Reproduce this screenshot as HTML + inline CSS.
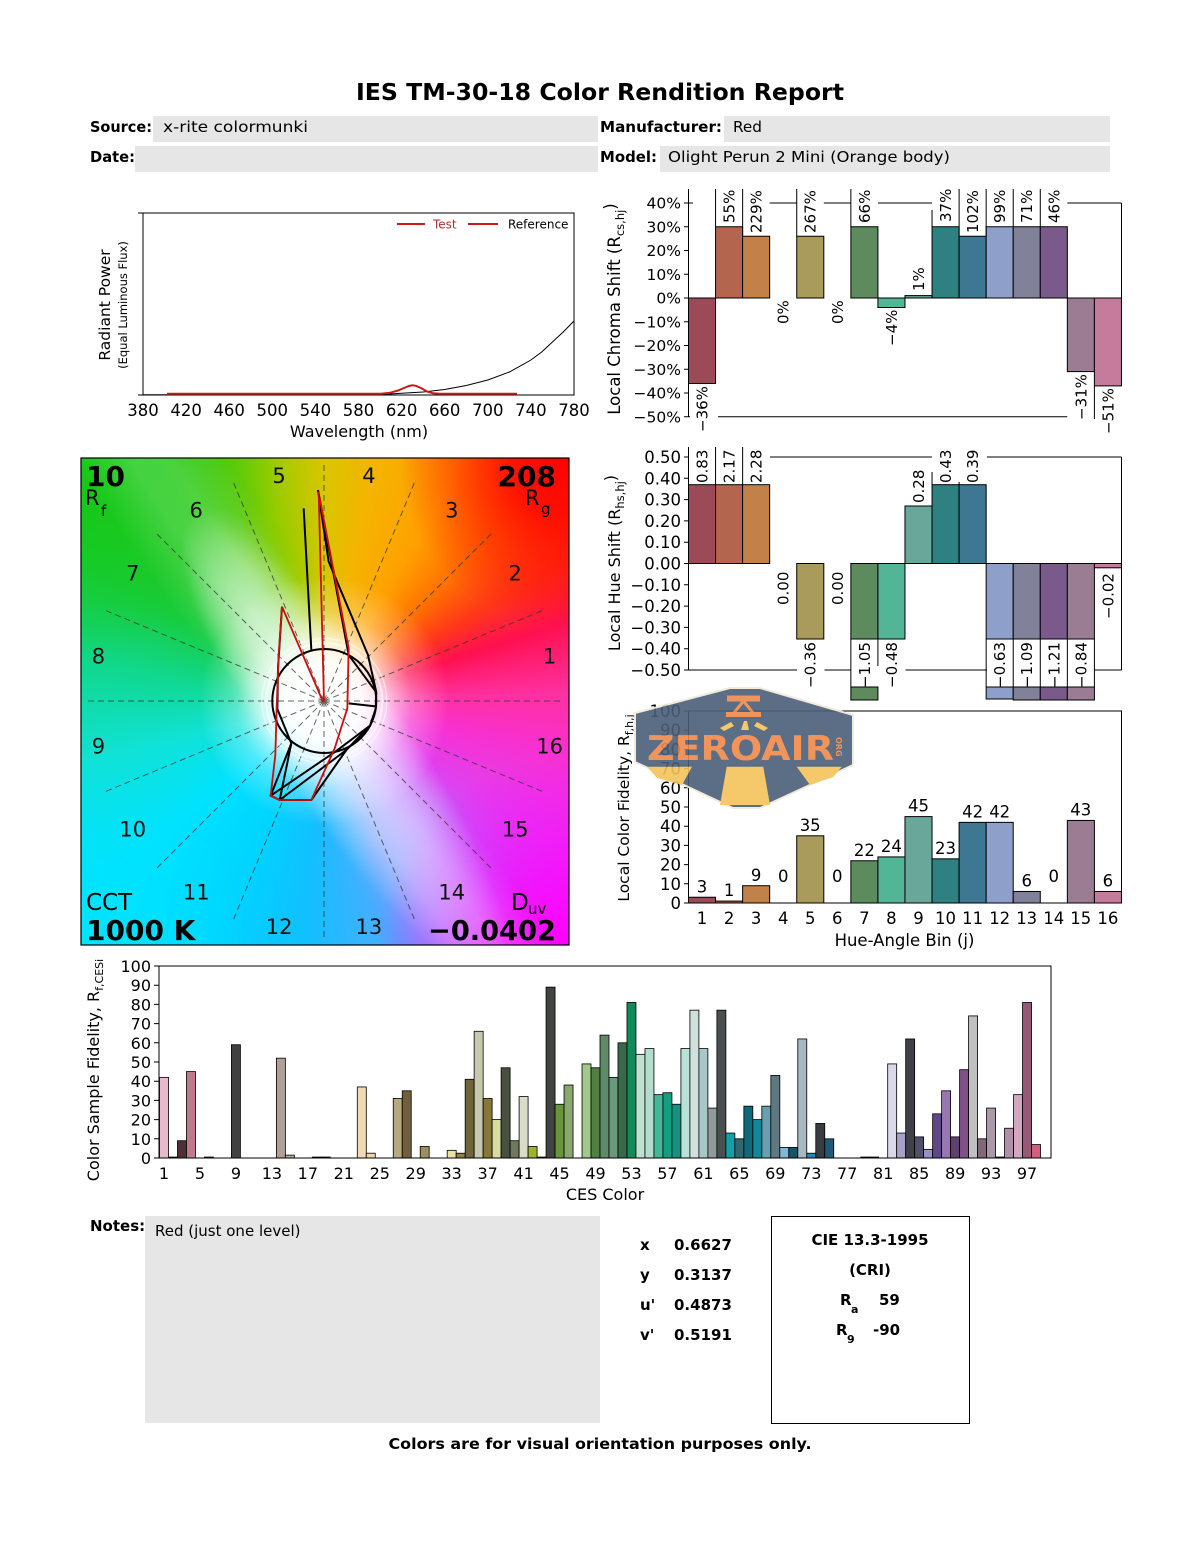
<!DOCTYPE html>
<html><head><meta charset="utf-8">
<style>
html,body{margin:0;padding:0;background:#fff;}
body{width:1200px;height:1550px;position:relative;overflow:hidden;}
#cvg{position:absolute;left:81px;top:458px;width:488px;height:487px;overflow:hidden;
background:
radial-gradient(circle at 243px 243px, #fff 0px, rgba(255,255,255,.97) 38px, rgba(255,255,255,.75) 60px, rgba(255,255,255,.3) 88px, rgba(255,255,255,0) 125px),
linear-gradient(56deg, rgba(255,255,255,0) 39%, rgba(255,255,255,.18) 46%, rgba(255,255,255,.18) 51%, rgba(255,255,255,0) 58%),
radial-gradient(circle at 100% 0%, rgba(255,0,0,1) 0px, rgba(255,0,0,.85) 60px, rgba(255,0,0,0) 170px),
radial-gradient(circle at 100% 100%, rgba(255,0,255,1) 0px, rgba(255,0,255,.75) 70px, rgba(255,0,255,0) 190px),
radial-gradient(circle at 0% 100%, rgba(0,228,255,1) 0px, rgba(0,228,255,0) 170px),
radial-gradient(circle at 0% 0%, rgba(20,200,20,1) 0px, rgba(20,200,20,.6) 90px, rgba(20,200,20,0) 200px),
conic-gradient(from 0deg at 243px 243px, #d8c600 0deg, #f4b400 12deg, #ffa000 30deg, #ff7400 45deg, #ff3818 60deg, #ff1050 72deg, #ff30a0 88deg, #f830d0 102deg, #e040f0 122deg, #a070ff 145deg, #40b0ff 168deg, #10c0ff 185deg, #00d4ff 205deg, #00e2ff 230deg, #10e2d8 255deg, #10d890 278deg, #18cc40 300deg, #30c818 325deg, #90cc00 345deg, #d8c600 360deg);
}
#cvg .b1{position:absolute;left:-15px;top:225px;width:560px;height:130px;transform:rotate(56deg);
background:radial-gradient(ellipse closest-side, rgba(255,255,255,.6), rgba(255,255,255,.35) 50%, rgba(255,255,255,0));}
#cvg .b2{position:absolute;left:119px;top:37px;width:110px;height:240px;transform:rotate(-28deg);
background:radial-gradient(ellipse closest-side, rgba(255,255,255,.5), rgba(255,255,255,.25) 55%, rgba(255,255,255,0));}
svg{position:absolute;left:0;top:0;}
</style></head>
<body>
<div id="cvg"><div class="b1"></div><div class="b2"></div></div>
<svg width="1200" height="1550" viewBox="0 0 1200 1550" font-family="'DejaVu Sans','Liberation Sans',sans-serif" fill="#000">

<!-- HEADER -->
<text x="600" y="100" font-size="23" font-weight="bold" text-anchor="middle" textLength="488" lengthAdjust="spacingAndGlyphs">IES TM-30-18 Color Rendition Report</text>
<rect x="153" y="116" width="445" height="26" fill="#e6e6e6"/>
<rect x="724" y="116" width="386" height="26" fill="#e6e6e6"/>
<rect x="135" y="146" width="463" height="26" fill="#e6e6e6"/>
<rect x="660" y="146" width="450" height="26" fill="#e6e6e6"/>
<text x="90" y="132" font-size="15" font-weight="bold" textLength="62" lengthAdjust="spacingAndGlyphs">Source:</text>
<text x="163" y="132" font-size="15" textLength="145" lengthAdjust="spacingAndGlyphs">x-rite colormunki</text>
<text x="600" y="132" font-size="15" font-weight="bold" textLength="122" lengthAdjust="spacingAndGlyphs">Manufacturer:</text>
<text x="733" y="132" font-size="15" textLength="29" lengthAdjust="spacingAndGlyphs">Red</text>
<text x="90" y="162" font-size="15" font-weight="bold" textLength="45" lengthAdjust="spacingAndGlyphs">Date:</text>
<text x="600" y="162" font-size="15" font-weight="bold" textLength="57" lengthAdjust="spacingAndGlyphs">Model:</text>
<text x="668" y="162" font-size="15" textLength="282" lengthAdjust="spacingAndGlyphs">Olight Perun 2 Mini (Orange body)</text>

<!-- SPECTRAL CHART -->
<rect x="143" y="213" width="431" height="182" fill="none" stroke="#000" stroke-width="1"/>
<path d="M138,213H143M138,395H143" stroke="#000"/>
<g font-size="16.5" text-anchor="middle">
<text x="143" y="416">380</text><text x="186.1" y="416">420</text><text x="229.2" y="416">460</text>
<text x="272.3" y="416">500</text><text x="315.4" y="416">540</text><text x="358.5" y="416">580</text>
<text x="401.6" y="416">620</text><text x="444.7" y="416">660</text><text x="487.8" y="416">700</text>
<text x="530.9" y="416">740</text><text x="574" y="416">780</text>
</g>
<text x="359" y="437" font-size="16" text-anchor="middle">Wavelength (nm)</text>
<text transform="translate(110,305) rotate(-90)" font-size="15.5" text-anchor="middle">Radiant Power</text>
<text transform="translate(127,305) rotate(-90)" font-size="11.5" text-anchor="middle">(Equal Luminous Flux)</text>
<path d="M143,394.7 L370,394.7 L390,394 L401.6,393.3 L423.2,392 L444.7,389.5 L466.3,385.5 L487.8,380 L509.4,372 L530.9,360 L541.7,352 L552.4,342 L563.2,332 L574,321" fill="none" stroke="#000" stroke-width="1"/>
<path d="M167,393.8 L380,393.8 L390,392.8 L398,390.5 L404,388 L409,386 L412.5,385.3 L416,385.8 L421,388 L427,391.5 L433,393.3 L440,393.8 L517,393.8" fill="none" stroke="#cc1a1a" stroke-width="2"/>
<path d="M397,224H425M468,224H498" stroke="#cc1a1a" stroke-width="2"/>
<text x="433" y="228.5" font-size="12" fill="#b03030">Test</text>
<text x="508" y="228.5" font-size="12">Reference</text>

<!-- COLOR VECTOR GRAPHIC OVERLAY -->
<g stroke="#333" stroke-width="1" stroke-dasharray="6,4" opacity="0.75">
<path d="M324,701L564,701M324,701L545.7,609.2M324,701L493.7,531.3M324,701L415.8,479.3M324,701L324,461M324,701L232.2,479.3M324,701L154.3,531.3M324,701L102.3,609.2M324,701L84,701M324,701L102.3,792.8M324,701L154.3,870.7M324,701L232.2,922.7M324,701L324,941M324,701L415.8,922.7M324,701L493.7,870.7M324,701L545.7,792.8"/>
</g>
<circle cx="324.3" cy="701" r="58" fill="none" stroke="#fff" stroke-width="2" opacity="0.6"/>
<circle cx="324.3" cy="701" r="62.5" fill="none" stroke="#fff" stroke-width="1.5" opacity="0.5"/>
<circle cx="324.3" cy="701" r="52" fill="none" stroke="#000" stroke-width="2"/>
<g transform="translate(78,455) scale(0.33333)" fill="none" stroke-linejoin="round">
<path d="M720,105 L752,320 L870,600 L895,712 L893,762 L876,812 L805,885 L700,1035 L605,1035 L578,1022 L640,865 L598,762 L600,640 L612,455 M677,160 L700,585 M720,105 L812,600 L895,712 M812,745 L893,754 M578,1022 L772,890 L876,812 M605,1035 L805,885 M640,865 L605,1035" stroke="#000" stroke-width="6"/>
<path d="M612,455 L735,740 M722,110 L738,740 M725,130 L812,580 L808,760 L770,880 L700,1035 L605,1035 L578,1022 L592,900 L596,760 L602,600 L612,455" stroke="#cc1010" stroke-width="5.5"/>
</g>
<g font-size="21" text-anchor="middle" fill="#111">
<text x="549.6" y="663.6">1</text><text x="515.2" y="580.7">2</text><text x="451.8" y="517.3">3</text>
<text x="368.9" y="482.9">4</text><text x="279.1" y="482.9">5</text><text x="196.2" y="517.3">6</text>
<text x="132.8" y="580.7">7</text><text x="98.4" y="663.6">8</text><text x="98.4" y="753.4">9</text>
<text x="132.8" y="836.3">10</text><text x="196.2" y="899.7">11</text><text x="279.1" y="934.1">12</text>
<text x="368.9" y="934.1">13</text><text x="451.8" y="899.7">14</text><text x="515.2" y="836.3">15</text>
<text x="549.6" y="753.4">16</text>
</g>
<text x="86" y="486" font-size="28" font-weight="bold">10</text>
<text x="85" y="505" font-size="21">R</text><text x="101" y="516" font-size="15">f</text>
<text x="556" y="486" font-size="28" font-weight="bold" text-anchor="end">208</text>
<text x="525" y="505" font-size="21">R</text><text x="541" y="514" font-size="15">g</text>
<text x="86" y="910" font-size="23">CCT</text>
<text x="86" y="940" font-size="28" font-weight="bold">1000 K</text>
<text x="511" y="910" font-size="23">D</text><text x="528" y="914" font-size="15">uv</text>
<text x="556" y="940" font-size="28" font-weight="bold" text-anchor="end" textLength="128" lengthAdjust="spacingAndGlyphs">−0.0402</text>
<rect x="81" y="458" width="488" height="487" fill="none" stroke="#000" stroke-width="1.2"/>

<!-- CHROMA SHIFT CHART -->
<g stroke="#000" stroke-width="1">
<rect x="688.5" y="298" width="27.06" height="85.5" fill="#9b4a57"/>
<rect x="715.56" y="226.75" width="27.06" height="71.25" fill="#b3654e"/>
<rect x="742.62" y="236.25" width="27.06" height="61.75" fill="#c3814a"/>
<rect x="796.74" y="236.25" width="27.06" height="61.75" fill="#a99b5c"/>
<rect x="850.86" y="226.75" width="27.06" height="71.25" fill="#5e8b5d"/>
<rect x="877.92" y="298" width="27.06" height="9.5" fill="#52b595"/>
<rect x="904.98" y="295.6" width="27.06" height="2.4" fill="#6aa79b"/>
<rect x="932.04" y="226.75" width="27.06" height="71.25" fill="#2f8080"/>
<rect x="959.1" y="236.25" width="27.06" height="61.75" fill="#3e7791"/>
<rect x="986.16" y="226.75" width="27.06" height="71.25" fill="#8e9fc9"/>
<rect x="1013.22" y="226.75" width="27.06" height="71.25" fill="#818199"/>
<rect x="1040.28" y="226.75" width="27.06" height="71.25" fill="#7a5a8a"/>
<rect x="1067.34" y="298" width="27.06" height="73.6" fill="#9a7d92"/>
<rect x="1094.4" y="298" width="27.06" height="87.9" fill="#c57b9b"/>
<path fill="none" d="M688.5,189V416.75 M688.5,203H693 M769.7,203H796.7 M823.8,203H850.9 M877.9,203H932 M1067.3,203H1121.5 M1121.5,203V298 M688.5,416.75H690 M718,416.75H1067.3
M715.56,189V226.75 M742.62,189V236.25 M796.74,189V236.25 M850.86,189V226.75 M932.04,210V226.75 M959.1,189V236.25 M986.16,189V236.25 M1013.22,189V226.75 M1040.28,189V226.75 M1094.4,385.9V419
M684,203H688.5 M684,226.75H688.5 M684,250.5H688.5 M684,274.25H688.5 M684,298H688.5 M684,321.75H688.5 M684,345.5H688.5 M684,369.25H688.5 M684,393H688.5 M684,416.75H688.5"/>
</g>
<g font-size="15.5" text-anchor="end">
<text x="681" y="208.5">40%</text><text x="681" y="232.25">30%</text><text x="681" y="256">20%</text>
<text x="681" y="279.75">10%</text><text x="681" y="303.5">0%</text><text x="681" y="327.25">−10%</text>
<text x="681" y="351">−20%</text><text x="681" y="374.75">−30%</text><text x="681" y="398.5">−40%</text>
<text x="681" y="422.25">−50%</text>
</g>
<text transform="translate(620,309) rotate(-90)" font-size="16.5" text-anchor="middle">Local Chroma Shift (R<tspan font-size="11.5" dy="4">cs,hj</tspan><tspan dy="-8">)</tspan></text>
<g font-size="15">
<text transform="translate(707.5,432) rotate(-90)">−36%</text>
<text transform="translate(734.6,223) rotate(-90)">55%</text>
<text transform="translate(761.6,233) rotate(-90)">229%</text>
<text transform="translate(788.7,324) rotate(-90)">0%</text>
<text transform="translate(815.7,233) rotate(-90)">267%</text>
<text transform="translate(842.8,324) rotate(-90)">0%</text>
<text transform="translate(869.9,223) rotate(-90)">66%</text>
<text transform="translate(896.9,346) rotate(-90)">−4%</text>
<text transform="translate(924,291) rotate(-90)">1%</text>
<text transform="translate(951,222) rotate(-90)">37%</text>
<text transform="translate(978.1,233) rotate(-90)">102%</text>
<text transform="translate(1005.2,223) rotate(-90)">99%</text>
<text transform="translate(1032.2,223) rotate(-90)">71%</text>
<text transform="translate(1059.3,223) rotate(-90)">46%</text>
<text transform="translate(1086.3,420) rotate(-90)">−31%</text>
<text transform="translate(1113.4,434) rotate(-90)">−51%</text>
</g>

<!-- HUE SHIFT CHART -->
<g stroke="#000" stroke-width="1">
<rect x="688.5" y="484.7" width="27.06" height="78.8" fill="#9b4a57"/>
<rect x="715.56" y="484.7" width="27.06" height="78.8" fill="#b3654e"/>
<rect x="742.62" y="484.7" width="27.06" height="78.8" fill="#c3814a"/>
<rect x="796.74" y="563.5" width="27.06" height="75.5" fill="#a99b5c"/>
<rect x="850.86" y="563.5" width="27.06" height="75.5" fill="#5e8b5d"/>
<rect x="850.86" y="687" width="27.06" height="13" fill="#5e8b5d"/>
<rect x="877.92" y="563.5" width="27.06" height="75.5" fill="#52b595"/>
<rect x="904.98" y="506" width="27.06" height="57.5" fill="#6aa79b"/>
<rect x="932.04" y="484.7" width="27.06" height="78.8" fill="#2f8080"/>
<rect x="959.1" y="484.7" width="27.06" height="78.8" fill="#3e7791"/>
<rect x="986.16" y="563.5" width="27.06" height="75.5" fill="#8e9fc9"/>
<rect x="986.16" y="687" width="27.06" height="12" fill="#8e9fc9"/>
<rect x="1013.22" y="563.5" width="27.06" height="75.5" fill="#818199"/>
<rect x="1013.22" y="687" width="27.06" height="13" fill="#818199"/>
<rect x="1040.28" y="563.5" width="27.06" height="75.5" fill="#7a5a8a"/>
<rect x="1040.28" y="687" width="27.06" height="13" fill="#7a5a8a"/>
<rect x="1067.34" y="563.5" width="27.06" height="75.5" fill="#9a7d92"/>
<rect x="1067.34" y="687" width="27.06" height="13" fill="#9a7d92"/>
<rect x="1094.4" y="563.5" width="27.06" height="4.3" fill="#c57b9b"/>
<path fill="none" d="M688.5,447V670 M770,457H932 M987,457H1121.5 M1121.5,457V670 M688.5,670H797 M824.5,670H851 M905.5,670H987 M1094.5,670H1121.5
M715.56,447V484.7 M742.62,447V484.7 M932.04,472V484.7 M959.1,482V484.7
M850.86,639V687 M877.92,639V666 M986.16,639V687 M1013.22,639V687 M1040.28,639V687 M1067.34,639V687 M1094.4,639V687
M684,457H688.5 M684,478.3H688.5 M684,499.6H688.5 M684,520.9H688.5 M684,542.2H688.5 M684,563.5H688.5 M684,584.8H688.5 M684,606.1H688.5 M684,627.4H688.5 M684,648.7H688.5 M684,670H688.5"/>
</g>
<g font-size="16.5" text-anchor="end">
<text x="681" y="463">0.50</text><text x="681" y="484.3">0.40</text><text x="681" y="505.6">0.30</text>
<text x="681" y="526.9">0.20</text><text x="681" y="548.2">0.10</text><text x="681" y="569.5">0.00</text>
<text x="681" y="590.8">−0.10</text><text x="681" y="612.1">−0.20</text><text x="681" y="633.4">−0.30</text>
<text x="681" y="654.7">−0.40</text><text x="681" y="676">−0.50</text>
</g>
<text transform="translate(620,563) rotate(-90)" font-size="16" text-anchor="middle">Local Hue Shift (R<tspan font-size="11.5" dy="4">hs,hj</tspan><tspan dy="-8">)</tspan></text>
<g font-size="15">
<text transform="translate(707.5,483) rotate(-90)">0.83</text>
<text transform="translate(734.6,483) rotate(-90)">2.17</text>
<text transform="translate(761.6,483) rotate(-90)">2.28</text>
<text transform="translate(788.7,605) rotate(-90)">0.00</text>
<text transform="translate(815.7,688) rotate(-90)">−0.36</text>
<text transform="translate(842.8,605) rotate(-90)">0.00</text>
<text transform="translate(869.9,688) rotate(-90)">−1.05</text>
<text transform="translate(896.9,688) rotate(-90)">−0.48</text>
<text transform="translate(924,503) rotate(-90)">0.28</text>
<text transform="translate(951,483) rotate(-90)">0.43</text>
<text transform="translate(978.1,483) rotate(-90)">0.39</text>
<text transform="translate(1005.2,688) rotate(-90)">−0.63</text>
<text transform="translate(1032.2,688) rotate(-90)">−1.09</text>
<text transform="translate(1059.3,688) rotate(-90)">−1.21</text>
<text transform="translate(1086.3,688) rotate(-90)">−0.84</text>
<text transform="translate(1113.4,619) rotate(-90)">−0.02</text>
</g>

<!-- FIDELITY CHART -->
<g stroke="#000" stroke-width="1">
<rect x="688.5" y="711" width="433" height="192" fill="none"/>
<rect x="688.5" y="897.24" width="27.06" height="5.76" fill="#9b4a57"/>
<rect x="715.56" y="901.08" width="27.06" height="1.92" fill="#b3654e"/>
<rect x="742.62" y="885.72" width="27.06" height="17.28" fill="#c3814a"/>
<rect x="796.74" y="835.8" width="27.06" height="67.2" fill="#a99b5c"/>
<rect x="850.86" y="860.76" width="27.06" height="42.24" fill="#5e8b5d"/>
<rect x="877.92" y="856.92" width="27.06" height="46.08" fill="#52b595"/>
<rect x="904.98" y="816.6" width="27.06" height="86.4" fill="#6aa79b"/>
<rect x="932.04" y="858.84" width="27.06" height="44.16" fill="#2f8080"/>
<rect x="959.1" y="822.36" width="27.06" height="80.64" fill="#3e7791"/>
<rect x="986.16" y="822.36" width="27.06" height="80.64" fill="#8e9fc9"/>
<rect x="1013.22" y="891.48" width="27.06" height="11.52" fill="#818199"/>
<rect x="1067.34" y="820.44" width="27.06" height="82.56" fill="#9a7d92"/>
<rect x="1094.4" y="891.48" width="27.06" height="11.52" fill="#c57b9b"/>
<path fill="none" d="M684,711H688.5 M684,730.2H688.5 M684,749.4H688.5 M684,768.6H688.5 M684,787.8H688.5 M684,807H688.5 M684,826.2H688.5 M684,845.4H688.5 M684,864.6H688.5 M684,883.8H688.5 M684,903H688.5"/>
</g>
<g font-size="16.5" text-anchor="end">
<text x="681" y="717">100</text><text x="681" y="736.2">90</text><text x="681" y="755.4">80</text>
<text x="681" y="774.6">70</text><text x="681" y="793.8">60</text><text x="681" y="813">50</text>
<text x="681" y="832.2">40</text><text x="681" y="851.4">30</text><text x="681" y="870.6">20</text>
<text x="681" y="889.8">10</text><text x="681" y="909">0</text>
</g>
<g font-size="16.5" text-anchor="middle">
<text x="702" y="892.5">3</text><text x="729.1" y="896">1</text><text x="756.1" y="881">9</text>
<text x="783.2" y="882">0</text><text x="810.2" y="831">35</text><text x="837.3" y="882">0</text>
<text x="864.4" y="856">22</text><text x="891.4" y="852">24</text><text x="918.5" y="811.6">45</text>
<text x="945.5" y="854">23</text><text x="972.6" y="817.4">42</text><text x="999.7" y="817.4">42</text>
<text x="1026.7" y="886.5">6</text><text x="1053.8" y="882">0</text><text x="1080.8" y="815.4">43</text>
<text x="1107.9" y="886.5">6</text>
</g>
<g font-size="16.5" text-anchor="middle">
<text x="702" y="924">1</text><text x="729.1" y="924">2</text><text x="756.1" y="924">3</text>
<text x="783.2" y="924">4</text><text x="810.2" y="924">5</text><text x="837.3" y="924">6</text>
<text x="864.4" y="924">7</text><text x="891.4" y="924">8</text><text x="918.5" y="924">9</text>
<text x="945.5" y="924">10</text><text x="972.6" y="924">11</text><text x="999.7" y="924">12</text>
<text x="1026.7" y="924">13</text><text x="1053.8" y="924">14</text><text x="1080.8" y="924">15</text>
<text x="1107.9" y="924">16</text>
</g>
<text x="904.5" y="946" font-size="16.5" text-anchor="middle">Hue-Angle Bin (j)</text>
<text transform="translate(629,808) rotate(-90)" font-size="15.5" text-anchor="middle">Local Color Fidelity, R<tspan font-size="11" dy="4">f,h,j</tspan></text>

<!-- WATERMARK -->
<g opacity="0.9">
<polygon points="635,713 730,688 760,688 853,715 853,765 760,808 733,808 635,762" fill="#4b5f78" stroke="#efe9d6" stroke-width="2" stroke-linejoin="round"/>
<g fill="#f0894a">
<rect x="727" y="695.5" width="33" height="6"/>
<polygon points="743.5,701 733,714 754,714" fill="none" stroke="#f0894a" stroke-width="3"/>
<rect x="726" y="712" width="35" height="5"/>
<text x="647" y="760" font-size="34" font-weight="bold" textLength="187" lengthAdjust="spacingAndGlyphs">ZEROAIR</text>
<text transform="translate(836,737) rotate(90)" font-size="8" font-weight="bold">ORG</text>
</g>
<g fill="#f5c35a">
<polygon points="720,728 731,722 734,726 724,731"/>
<polygon points="741,730 744,721 747,721 749,730"/>
<polygon points="754,726 757,722 768,728 764,731"/>
<polygon points="647,766.7 692,766.7 682,785 657,778"/>
<polygon points="726.7,766.7 763.3,766.7 770,805 720,805"/>
<polygon points="796.7,766.7 841.7,766.7 833.3,777 810,785"/>
</g>
</g>

<!-- CES CHART -->
<g stroke="#000" stroke-width="0.8">
<rect x="159.5" y="1077.36" width="8.99" height="80.64" fill="#e8b8cc"/>
<rect x="168.49" y="1157.04" width="8.99" height="0.96" fill="#5a4a4a"/>
<rect x="177.48" y="1140.72" width="8.99" height="17.28" fill="#503038"/>
<rect x="186.47" y="1071.6" width="8.99" height="86.4" fill="#c07a8c"/>
<rect x="204.45" y="1157.04" width="8.99" height="0.96" fill="#3a2a2a"/>
<rect x="231.42" y="1044.72" width="8.99" height="113.28" fill="#404040"/>
<rect x="276.37" y="1058.16" width="8.99" height="99.84" fill="#b0a098"/>
<rect x="285.36" y="1155.12" width="8.99" height="2.88" fill="#b8ac9c"/>
<rect x="312.33" y="1157.04" width="8.99" height="0.96" fill="#222"/>
<rect x="321.32" y="1157.04" width="8.99" height="0.96" fill="#222"/>
<rect x="357.28" y="1086.96" width="8.99" height="71.04" fill="#f0dab4"/>
<rect x="366.27" y="1153.2" width="8.99" height="4.8" fill="#f0d4a8"/>
<rect x="393.24" y="1098.48" width="8.99" height="59.52" fill="#b8a882"/>
<rect x="402.23" y="1090.8" width="8.99" height="67.2" fill="#706040"/>
<rect x="420.21" y="1146.48" width="8.99" height="11.52" fill="#9a9060"/>
<rect x="447.18" y="1150.32" width="8.99" height="7.68" fill="#e8e2a0"/>
<rect x="456.17" y="1153.2" width="8.99" height="4.8" fill="#908040"/>
<rect x="465.16" y="1079.28" width="8.99" height="78.72" fill="#706438"/>
<rect x="474.15" y="1031.28" width="8.99" height="126.72" fill="#c8c8b0"/>
<rect x="483.14" y="1098.48" width="8.99" height="59.52" fill="#887838"/>
<rect x="492.13" y="1119.6" width="8.99" height="38.4" fill="#d8dca0"/>
<rect x="501.12" y="1067.76" width="8.99" height="90.24" fill="#485040"/>
<rect x="510.11" y="1140.72" width="8.99" height="17.28" fill="#707860"/>
<rect x="519.1" y="1096.56" width="8.99" height="61.44" fill="#d8dcc8"/>
<rect x="528.09" y="1146.48" width="8.99" height="11.52" fill="#a0b030"/>
<rect x="537.08" y="1157.04" width="8.99" height="0.96" fill="#333"/>
<rect x="546.07" y="987.12" width="8.99" height="170.88" fill="#404440"/>
<rect x="555.06" y="1104.24" width="8.99" height="53.76" fill="#6a963a"/>
<rect x="564.05" y="1085.04" width="8.99" height="72.96" fill="#88a870"/>
<rect x="582.03" y="1063.92" width="8.99" height="94.08" fill="#a0c888"/>
<rect x="591.02" y="1067.76" width="8.99" height="90.24" fill="#507f42"/>
<rect x="600.01" y="1035.12" width="8.99" height="122.88" fill="#5e8a68"/>
<rect x="609" y="1077.36" width="8.99" height="80.64" fill="#6a9a7c"/>
<rect x="617.99" y="1042.8" width="8.99" height="115.2" fill="#386a4a"/>
<rect x="626.98" y="1002.48" width="8.99" height="155.52" fill="#108a58"/>
<rect x="635.97" y="1054.32" width="8.99" height="103.68" fill="#c0e0d0"/>
<rect x="644.96" y="1048.56" width="8.99" height="109.44" fill="#b2dccc"/>
<rect x="653.95" y="1094.64" width="8.99" height="63.36" fill="#40b898"/>
<rect x="662.94" y="1092.72" width="8.99" height="65.28" fill="#10a080"/>
<rect x="671.93" y="1104.24" width="8.99" height="53.76" fill="#189080"/>
<rect x="680.92" y="1048.56" width="8.99" height="109.44" fill="#b8e2d8"/>
<rect x="689.91" y="1010.16" width="8.99" height="147.84" fill="#d0e0dc"/>
<rect x="698.9" y="1048.56" width="8.99" height="109.44" fill="#a8c8c8"/>
<rect x="707.89" y="1108.08" width="8.99" height="49.92" fill="#909c9c"/>
<rect x="716.88" y="1010.16" width="8.99" height="147.84" fill="#485050"/>
<rect x="725.87" y="1133.04" width="8.99" height="24.96" fill="#10a0a8"/>
<rect x="734.86" y="1138.8" width="8.99" height="19.2" fill="#306870"/>
<rect x="743.85" y="1106.16" width="8.99" height="51.84" fill="#106878"/>
<rect x="752.84" y="1119.6" width="8.99" height="38.4" fill="#10889a"/>
<rect x="761.83" y="1106.16" width="8.99" height="51.84" fill="#68a0b0"/>
<rect x="770.82" y="1075.44" width="8.99" height="82.56" fill="#607880"/>
<rect x="779.81" y="1147.44" width="8.99" height="10.56" fill="#80b8d8"/>
<rect x="788.8" y="1147.44" width="8.99" height="10.56" fill="#105868"/>
<rect x="797.79" y="1038.96" width="8.99" height="119.04" fill="#a8b8c0"/>
<rect x="806.78" y="1153.2" width="8.99" height="4.8" fill="#2088b8"/>
<rect x="815.77" y="1123.44" width="8.99" height="34.56" fill="#383c40"/>
<rect x="824.76" y="1138.8" width="8.99" height="19.2" fill="#205878"/>
<rect x="860.72" y="1157.04" width="8.99" height="0.96" fill="#222"/>
<rect x="869.71" y="1157.04" width="8.99" height="0.96" fill="#222"/>
<rect x="887.69" y="1063.92" width="8.99" height="94.08" fill="#d8d8e8"/>
<rect x="896.68" y="1133.04" width="8.99" height="24.96" fill="#a8a0c8"/>
<rect x="905.67" y="1038.96" width="8.99" height="119.04" fill="#404048"/>
<rect x="914.66" y="1136.88" width="8.99" height="21.12" fill="#505068"/>
<rect x="923.65" y="1149.36" width="8.99" height="8.64" fill="#9890c8"/>
<rect x="932.64" y="1113.84" width="8.99" height="44.16" fill="#604888"/>
<rect x="941.63" y="1090.8" width="8.99" height="67.2" fill="#9878b0"/>
<rect x="950.62" y="1136.88" width="8.99" height="21.12" fill="#604070"/>
<rect x="959.61" y="1069.68" width="8.99" height="88.32" fill="#805088"/>
<rect x="968.6" y="1015.92" width="8.99" height="142.08" fill="#c0c0c0"/>
<rect x="977.59" y="1138.8" width="8.99" height="19.2" fill="#806878"/>
<rect x="986.58" y="1108.08" width="8.99" height="49.92" fill="#a898a8"/>
<rect x="995.57" y="1157.04" width="8.99" height="0.96" fill="#333"/>
<rect x="1004.56" y="1128.24" width="8.99" height="29.76" fill="#b090a8"/>
<rect x="1013.55" y="1094.64" width="8.99" height="63.36" fill="#d0a8c0"/>
<rect x="1022.54" y="1002.48" width="8.99" height="155.52" fill="#985878"/>
<rect x="1031.53" y="1144.56" width="8.99" height="13.44" fill="#d06080"/>
</g>
<rect x="159" y="966" width="892" height="192" fill="none" stroke="#000" stroke-width="1"/>
<path d="M154,966H159M154,985.2H159M154,1004.4H159M154,1023.6H159M154,1042.8H159M154,1062H159M154,1081.2H159M154,1100.4H159M154,1119.6H159M154,1138.8H159M154,1158H159" stroke="#000"/>
<g font-size="16" text-anchor="end">
<text x="151" y="972">100</text><text x="151" y="991.2">90</text><text x="151" y="1010.4">80</text>
<text x="151" y="1029.6">70</text><text x="151" y="1048.8">60</text><text x="151" y="1068">50</text>
<text x="151" y="1087.2">40</text><text x="151" y="1106.4">30</text><text x="151" y="1125.6">20</text>
<text x="151" y="1144.8">10</text><text x="151" y="1164">0</text>
</g>
<g font-size="16" text-anchor="middle">
<text x="164" y="1179">1</text><text x="199.96" y="1179">5</text><text x="235.92" y="1179">9</text>
<text x="271.88" y="1179">13</text><text x="307.84" y="1179">17</text><text x="343.8" y="1179">21</text>
<text x="379.76" y="1179">25</text><text x="415.72" y="1179">29</text><text x="451.68" y="1179">33</text>
<text x="487.64" y="1179">37</text><text x="523.6" y="1179">41</text><text x="559.56" y="1179">45</text>
<text x="595.52" y="1179">49</text><text x="631.48" y="1179">53</text><text x="667.44" y="1179">57</text>
<text x="703.4" y="1179">61</text><text x="739.36" y="1179">65</text><text x="775.32" y="1179">69</text>
<text x="811.28" y="1179">73</text><text x="847.24" y="1179">77</text><text x="883.2" y="1179">81</text>
<text x="919.16" y="1179">85</text><text x="955.12" y="1179">89</text><text x="991.08" y="1179">93</text>
<text x="1027.04" y="1179">97</text>
</g>
<text x="605" y="1200" font-size="16" text-anchor="middle">CES Color</text>
<text transform="translate(99,1070) rotate(-90)" font-size="16" text-anchor="middle">Color Sample Fidelity, R<tspan font-size="11" dy="4">f,CESi</tspan></text>

<!-- NOTES / CRI -->
<rect x="145" y="1216" width="455" height="207" fill="#e6e6e6"/>
<text x="90" y="1231" font-size="15" font-weight="bold">Notes:</text>
<text x="155" y="1236" font-size="15">Red (just one level)</text>
<g font-size="15" font-weight="bold">
<text x="640" y="1250">x</text><text x="674" y="1250">0.6627</text>
<text x="640" y="1280">y</text><text x="674" y="1280">0.3137</text>
<text x="640" y="1310">u'</text><text x="674" y="1310">0.4873</text>
<text x="640" y="1340">v'</text><text x="674" y="1340">0.5191</text>
</g>
<rect x="771.5" y="1216.5" width="198" height="207" fill="none" stroke="#000" stroke-width="1"/>
<g font-size="15" font-weight="bold">
<text x="870" y="1245" text-anchor="middle">CIE 13.3-1995</text>
<text x="870" y="1275" text-anchor="middle">(CRI)</text>
<text x="840" y="1305">R</text><text x="851" y="1313" font-size="11">a</text><text x="879" y="1305">59</text>
<text x="836" y="1335">R</text><text x="847" y="1343" font-size="11">9</text><text x="873" y="1335">-90</text>
</g>
<text x="600" y="1449" font-size="15" font-weight="bold" text-anchor="middle" textLength="423" lengthAdjust="spacingAndGlyphs">Colors are for visual orientation purposes only.</text>
</svg>
</body></html>
